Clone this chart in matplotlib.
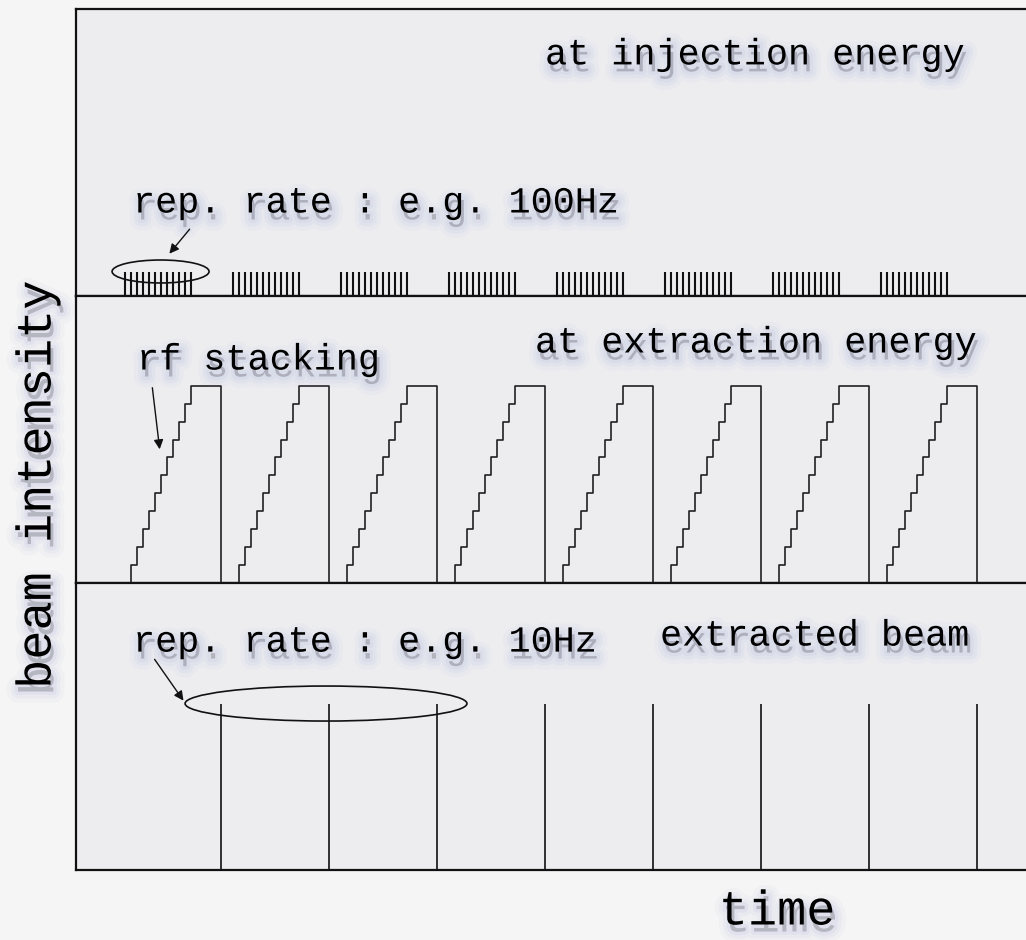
import matplotlib
matplotlib.use("Agg")
import matplotlib.pyplot as plt
import matplotlib.patheffects as pe
from matplotlib.patches import Ellipse

# extraction times (ms), 10 Hz -> one every 100 ms
extract_times = [0, 100, 200, 300, 400, 500, 600, 700]
# rf stacking steps relative to each extraction (ms) and their levels
stack_offsets = [-83.3, -77.8, -72.2, -66.7, -61.1, -55.6, -50.0, -44.4, -38.9, -33.3, -27.8]
stack_levels = [1, 2, 3, 4, 5, 6, 7, 8, 9, 10, 11]
# injection pulses relative to each extraction (ms)
inj_offsets = [-88.9, -83.3, -77.8, -72.2, -66.7, -61.1, -55.6, -50.0, -44.4, -38.9, -33.3, -27.8]
inj_height = 0.084
pulse_height = 0.578

font = 'Liberation Mono'
glow = [pe.Stroke(linewidth=16, foreground='#9aa0d8', alpha=0.05, offset=(2, -5)),
        pe.Stroke(linewidth=10, foreground='#9aa0d8', alpha=0.08, offset=(2, -5)),
        pe.Stroke(linewidth=5, foreground='#9aa0d8', alpha=0.1, offset=(2, -5)),
        pe.Normal()]

fig = plt.figure(figsize=(10.26, 9.4), dpi=100, facecolor='#f5f5f5')

W, H = 1026.0, 940.0
left, right = 76, 1040
bounds = [(9, 296), (296, 583), (583, 870)]
axes = []
for top, bot in bounds:
    ax = fig.add_axes([left / W, 1 - bot / H, (right - left) / W, (bot - top) / H])
    ax.set_facecolor('#ededf0')
    ax.set_xlim(-134.3, (right - 221) / 1.08)
    ax.set_xticks([])
    ax.set_yticks([])
    for s in ax.spines.values():
        s.set_linewidth(1.6)
        s.set_color('#111111')
    axes.append(ax)
ax1, ax2, ax3 = axes

# --- injection energy panel
ax1.set_ylim(0, 1)
for t in extract_times:
    xs = [t + o for o in inj_offsets]
    ax1.vlines(xs, 0, inj_height, color='#111111', lw=1.5)
ax1.text(300, 0.84, 'at injection energy', fontsize=26.5, family=font, va='center', path_effects=glow)
ax1.text(-81.5, 0.324, 'rep. rate : e.g. 100Hz', fontsize=26.5, family=font, va='center', path_effects=glow)
ax1.add_patch(Ellipse((-56, 0.0854), 89.8, 0.08, fill=False, lw=1.2, ec='#111111'))
ax1.annotate('', xy=(-49.5, 0.14), xytext=(-27.5, 0.24),
             arrowprops=dict(arrowstyle='-|>', color='#111111', lw=1.0, mutation_scale=14))

# --- extraction energy panel (rf stacking)
ax2.set_ylim(0, 16)
for t in extract_times:
    xs = [t + stack_offsets[0]]
    ys = [0]
    for o, lv in zip(stack_offsets, stack_levels):
        xs += [t + o, t + o]
        ys += [ys[-1], lv]
    xs += [t, t]
    ys += [stack_levels[-1], 0]
    ax2.plot(xs, ys, color='#222222', lw=1.2)
ax2.text(-77.8, 12.43, 'rf stacking', fontsize=26.5, family=font, va='center', path_effects=glow)
ax2.text(290.7, 13.38, 'at extraction energy', fontsize=26.5, family=font, va='center', path_effects=glow)
ax2.annotate('', xy=(-56.5, 7.3), xytext=(-63.9, 11.04),
             arrowprops=dict(arrowstyle='-|>', color='#111111', lw=1.0, mutation_scale=14))

# --- extracted beam panel
ax3.set_ylim(0, 1)
ax3.vlines(extract_times, 0, pulse_height, color='#111111', lw=1.2)
ax3.text(-81.5, 0.794, 'rep. rate : e.g. 10Hz', fontsize=26.5, family=font, va='center', path_effects=glow)
ax3.text(406.5, 0.815, 'extracted beam', fontsize=26.5, family=font, va='center', path_effects=glow)
ax3.add_patch(Ellipse((97.2, 0.58), 261, 0.122, fill=False, lw=1.2, ec='#111111'))
ax3.annotate('', xy=(-33.3, 0.582), xytext=(-63, 0.742),
             arrowprops=dict(arrowstyle='-|>', color='#111111', lw=1.0, mutation_scale=14))

fig.text(38 / W, 1 - 485 / H, 'beam intensity', rotation=90, fontsize=35, family=font,
         ha='center', va='center', path_effects=glow)
fig.text(777 / W, 1 - 912 / H, 'time', fontsize=35, family=font,
         ha='center', va='center', path_effects=glow)

fig.savefig('out.png', dpi=100, facecolor=fig.get_facecolor())
